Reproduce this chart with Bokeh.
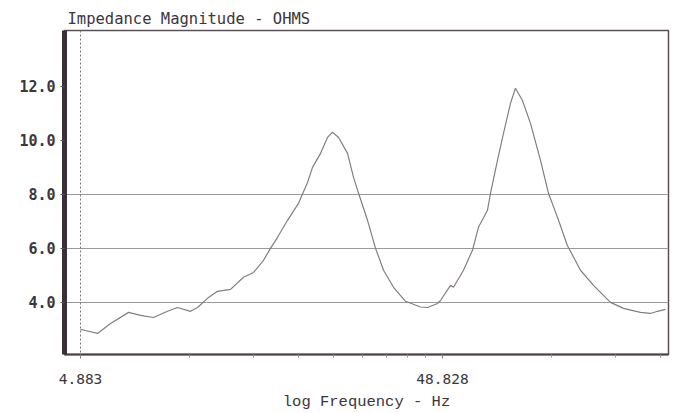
from bokeh.plotting import figure
from bokeh.models import Range1d, FixedTicker, PrintfTickFormatter, CustomJSTickFormatter, Span
from bokeh.embed import file_html
from bokeh.resources import INLINE

# Frequency (Hz) and impedance magnitude (ohms)
freq = [4.883, 5.04, 5.44, 5.91, 6.63, 7.15, 7.77, 8.49, 9.05, 9.83, 10.28, 10.95,
        11.67, 12.68, 13.77, 14.68, 15.64, 16.35, 17.10, 18.22, 19.54, 20.69, 21.36,
        22.48, 23.50, 24.26, 25.21, 26.69, 27.73, 28.63, 30.31, 31.90, 33.56, 35.76,
        38.59, 42.46, 44.39, 47.31, 48.21, 51.38, 52.37, 55.80, 59.08, 61.38, 65.00,
        66.26, 69.27, 71.97, 75.25, 77.67, 81.21, 85.46, 91.08, 95.83, 101.47, 108.13,
        117.46, 127.61, 142.16, 154.41, 172.06, 183.35, 191.69, 201.69]
imp = [3.00, 2.96, 2.85, 3.22, 3.63, 3.52, 3.44, 3.67, 3.81, 3.67, 3.81, 4.15,
       4.41, 4.48, 4.93, 5.11, 5.56, 6.00, 6.41, 7.04, 7.67, 8.44, 9.00,
       9.52, 10.11, 10.30, 10.11, 9.52, 8.63, 8.04, 7.04, 6.00, 5.19, 4.56,
       4.04, 3.83, 3.81, 3.96, 4.07, 4.63, 4.56, 5.19, 5.93, 6.78, 7.41,
       8.04, 9.26, 10.26, 11.37, 11.93, 11.48, 10.63, 9.26, 8.04, 7.15, 6.10,
       5.19, 4.63, 4.00, 3.78, 3.63, 3.59, 3.67, 3.74]

y_ticks = [4, 6, 8, 10, 12]
grid_ticks = [4, 6, 8]
x_ticks = [4.883, 48.828]
x_minor = [9.766, 14.649, 19.532, 24.415, 29.298, 34.181, 39.064, 43.947,
           97.656, 146.484, 195.312]
marker_freq = 4.883

p = figure(width=679, height=413, x_axis_type="log",
           x_range=Range1d(4.41, 205.6), y_range=Range1d(2.07, 14.07),
           output_backend="svg", toolbar_location=None,
           min_border_left=64, min_border_right=11, min_border_top=30, min_border_bottom=59,
           title="Impedance Magnitude - OHMS")

p.background_fill_color = "white"
p.border_fill_color = "white"
p.outline_line_color = "#5a5058"
p.outline_line_width = 1.5

p.title.text_font = "DejaVu Sans Mono"
p.title.text_font_size = "15.5px"
p.title.text_font_style = "normal"
p.title.text_color = "#3c3640"
p.title.align = "left"
p.title.offset = 3
p.title.standoff = 6

p.xgrid.visible = False
p.ygrid.ticker = FixedTicker(ticks=grid_ticks)
p.ygrid.grid_line_color = "#9a9a9a"
p.ygrid.grid_line_width = 1

ya = p.yaxis[0]
ya.ticker = FixedTicker(ticks=y_ticks)
ya.formatter = PrintfTickFormatter(format="%.1f")
ya.axis_line_width = 5
ya.axis_line_color = "#3a3038"
ya.major_tick_out = 4
ya.major_tick_in = 0
ya.major_tick_line_color = "#5a5058"
ya.minor_tick_line_color = None
ya.major_label_standoff = 5
ya.major_label_text_font = "DejaVu Sans Mono"
ya.major_label_text_font_style = "bold"
ya.major_label_text_font_size = "15px"
ya.major_label_text_color = "#3c3640"

xa = p.xaxis[0]
xa.ticker = FixedTicker(ticks=x_ticks, minor_ticks=x_minor)
xa.formatter = CustomJSTickFormatter(code="return tick.toFixed(3);")
xa.axis_line_width = 2
xa.axis_line_color = "#4a4048"
xa.major_tick_out = 4
xa.major_tick_in = 0
xa.major_tick_line_color = "#8a8088"
xa.minor_tick_out = 3
xa.minor_tick_in = 0
xa.minor_tick_line_color = "#9a9098"
xa.major_label_standoff = 15
xa.major_label_text_font = "DejaVu Sans Mono"
xa.major_label_text_font_size = "14.5px"
xa.major_label_text_color = "#3c3640"
xa.axis_label = "log Frequency - Hz"
xa.axis_label_text_font = "Liberation Mono"
xa.axis_label_text_font_size = "15.5px"
xa.axis_label_text_font_style = "normal"
xa.axis_label_text_color = "#3c3640"
xa.axis_label_standoff = 6

p.add_layout(Span(location=marker_freq, dimension="height", line_dash="2 2",
                  line_color="#777777", line_width=1))

p.line(freq, imp, line_color="#857c83", line_width=1.2)

open("out.html", "w").write(file_html(p, INLINE))
